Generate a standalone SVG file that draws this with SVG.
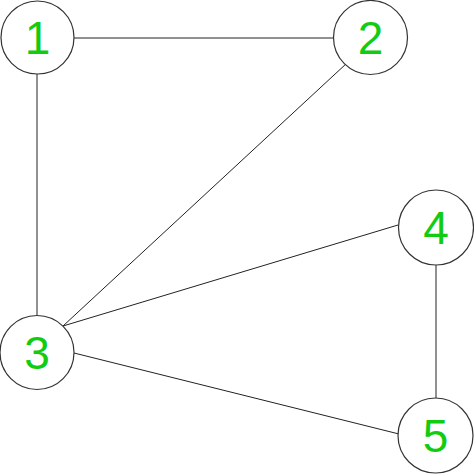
<svg xmlns="http://www.w3.org/2000/svg" width="474" height="474" viewBox="0 0 474 474">
<style>
.e{stroke:#222;stroke-width:1;fill:none}
.n circle{fill:#fff;stroke:#333;stroke-width:1.2}
.n text{font-family:"Liberation Sans",Arial,sans-serif;font-size:46px;fill:#11cc11;text-anchor:middle}
</style>
<rect width="474" height="474" fill="#fff"/>
<g id="edges">
<line class="e" x1="74" y1="38" x2="333" y2="38"/>
<line class="e" x1="37" y1="74" x2="37" y2="315"/>
<line class="e" x1="347" y1="63" x2="63" y2="326"/>
<line class="e" x1="63" y1="326" x2="398" y2="225"/>
<line class="e" x1="74" y1="353" x2="399" y2="434"/>
<line class="e" x1="436" y1="265" x2="436" y2="398"/>
</g>
<g id="n1" class="n"><circle cx="37.5" cy="37.5" r="36.5"/><text x="37.5" y="54">1</text></g>
<g id="n2" class="n"><circle cx="370.5" cy="37.5" r="37"/><text x="370.5" y="54">2</text></g>
<g id="n3" class="n"><circle cx="37" cy="352.5" r="37"/><text x="37" y="369">3</text></g>
<g id="n4" class="n"><circle cx="436" cy="227.5" r="37.5"/><text x="436" y="244">4</text></g>
<g id="n5" class="n"><circle cx="435.5" cy="435.5" r="37.5"/><text x="435.5" y="452">5</text></g>
</svg>
